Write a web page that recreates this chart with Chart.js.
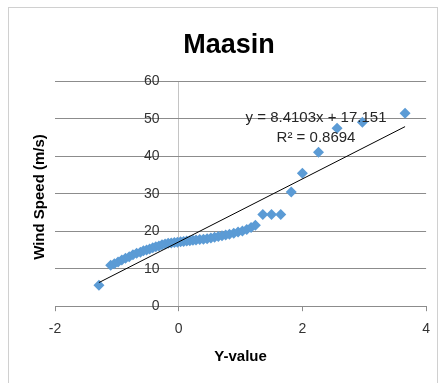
<!DOCTYPE html>
<html>
<head>
<meta charset="utf-8">
<script src="https://cdn.jsdelivr.net/npm/chart.js@4/dist/chart.umd.min.js"></script>
<style>
  html, body { margin: 0; padding: 0; background: #ffffff; }
  #wrap { position: relative; width: 440px; height: 383px; }
  canvas { display: block; }
</style>
</head>
<body>
<div id="wrap"><canvas id="c" width="440" height="383"></canvas></div>
<script>
// ---- data ----
const chartTitle = 'Maasin';
const xAxisTitle = 'Y-value';
const yAxisTitle = 'Wind Speed (m/s)';

const yValues = [
  -1.29, -1.10, -1.04, -0.98, -0.92, -0.86, -0.80, -0.74, -0.68, -0.62,
  -0.57, -0.52, -0.47, -0.42, -0.37, -0.32, -0.27, -0.22, -0.17, -0.12,
  -0.07, -0.02, 0.03, 0.08, 0.13, 0.18, 0.23, 0.28, 0.34, 0.40,
  0.46, 0.52, 0.58, 0.64, 0.70, 0.76, 0.82, 0.89, 0.96, 1.03,
  1.10, 1.17, 1.24, 1.36, 1.50, 1.65, 1.82, 2.00, 2.26, 2.56,
  2.97, 3.66
];
const windSpeed = [
  5.6, 10.9, 11.3, 11.8, 12.3, 12.8, 13.2, 13.7, 14.1, 14.4,
  14.8, 15.0, 15.3, 15.6, 15.9, 16.1, 16.4, 16.6, 16.8, 16.9,
  17.0, 17.1, 17.2, 17.3, 17.4, 17.5, 17.6, 17.7, 17.8, 17.9,
  18.0, 18.2, 18.4, 18.6, 18.8, 19.0, 19.2, 19.5, 19.8, 20.1,
  20.5, 21.0, 21.6, 24.5, 24.5, 24.5, 30.5, 35.5, 41.1, 47.5,
  49.1, 51.5
];

const xTicks = [-2, 0, 2, 4];
const yTicks = [0, 10, 20, 30, 40, 50, 60];

const trendSlope = 8.4103;
const trendIntercept = 17.151;
const trendR2 = 0.8694;

// ---- build datasets ----
const points = yValues.map((x, i) => ({ x: x, y: windSpeed[i] }));
const xMin = Math.min(...yValues), xMax = Math.max(...yValues);
const trendPoints = [xMin, xMax].map(x => ({ x: x, y: trendSlope * x + trendIntercept }));

const FONT = '"Liberation Sans", Arial, sans-serif';

const extras = {
  id: 'extras',
  beforeDraw(chart) {
    const ctx = chart.ctx;
    ctx.save();
    ctx.fillStyle = '#ffffff';
    ctx.fillRect(0, 0, chart.width, chart.height);
    ctx.strokeStyle = '#d0d0d0';
    ctx.lineWidth = 1;
    ctx.strokeRect(8.5, 7.5, 429, 380);
    ctx.restore();
  },
  afterDraw(chart) {
    const ctx = chart.ctx;
    const xs = chart.scales.x, ys = chart.scales.y;
    ctx.save();
    // y-axis title
    ctx.translate(40, 197);
    ctx.rotate(-Math.PI / 2);
    ctx.font = 'bold 15px ' + FONT;
    ctx.fillStyle = '#000000';
    ctx.textAlign = 'center';
    ctx.textBaseline = 'middle';
    ctx.fillText(yAxisTitle, 0, 0);
    ctx.restore();
    // trendline equation
    ctx.save();
    ctx.font = '15px ' + FONT;
    ctx.fillStyle = '#262626';
    ctx.textAlign = 'center';
    ctx.textBaseline = 'middle';
    const ex = xs.getPixelForValue(2.22);
    ctx.fillText('y = ' + trendSlope + 'x + ' + trendIntercept, ex, ys.getPixelForValue(50.4));
    ctx.fillText('R\u00B2 = ' + trendR2, ex, ys.getPixelForValue(44.9));
    ctx.restore();
  }
};

new Chart(document.getElementById('c'), {
  type: 'scatter',
  data: {
    datasets: [
      {
        label: 'Wind Speed',
        data: points,
        pointStyle: 'rectRot',
        pointRadius: 5.5,
        pointHoverRadius: 5.5,
        backgroundColor: '#5B9BD5',
        borderColor: '#5B9BD5',
        borderWidth: 0,
        order: 2
      },
      {
        label: 'Trend',
        type: 'line',
        data: trendPoints,
        borderColor: '#000000',
        borderWidth: 1,
        pointRadius: 0,
        fill: false,
        order: 1
      }
    ]
  },
  plugins: [extras],
  options: {
    responsive: false,
    animation: false,
    events: [],
    layout: { padding: { left: 31, right: 13, top: 0, bottom: 17 } },
    plugins: {
      legend: { display: false },
      tooltip: { enabled: false },
      title: {
        display: true,
        text: chartTitle,
        color: '#000000',
        font: { family: FONT, size: 27, weight: 'bold', lineHeight: 1.2 },
        padding: { top: 29, bottom: 20 }
      }
    },
    scales: {
      x: {
        type: 'linear',
        min: -2, max: 4,
        afterBuildTicks(scale) { scale.ticks = xTicks.map(v => ({ value: v })); },
        grid: {
          drawOnChartArea: true, drawTicks: true, tickLength: 5,
          color: ctx => (ctx.tick && ctx.tick.value === 0) ? '#c4c4c4' : 'rgba(0,0,0,0)',
          tickColor: '#8c8c8c'
        },
        border: { display: true, color: '#8c8c8c', width: 1 },
        ticks: { color: '#333333', font: { family: FONT, size: 14 }, padding: 10, maxRotation: 0 },
        title: {
          display: true, text: xAxisTitle, color: '#000000',
          font: { family: FONT, size: 15, weight: 'bold', lineHeight: 1.2 },
          padding: { top: 0, bottom: 0 }
        }
      },
      y: {
        type: 'linear',
        position: 'left',
        min: 0, max: 60,
        afterBuildTicks(scale) { scale.ticks = yTicks.map(v => ({ value: v })); },
        afterFit(scale) {
          scale.width = 24;
          scale.paddingTop = 0;
          scale.paddingBottom = 0;
        },
        grid: { color: '#8c8c8c', drawTicks: false },
        border: { display: false },
        ticks: {
          color: '#333333', font: { family: FONT, size: 14 },
          mirror: true, crossAlign: 'far', padding: 89
        }
      }
    }
  }
});
</script>
</body>
</html>
